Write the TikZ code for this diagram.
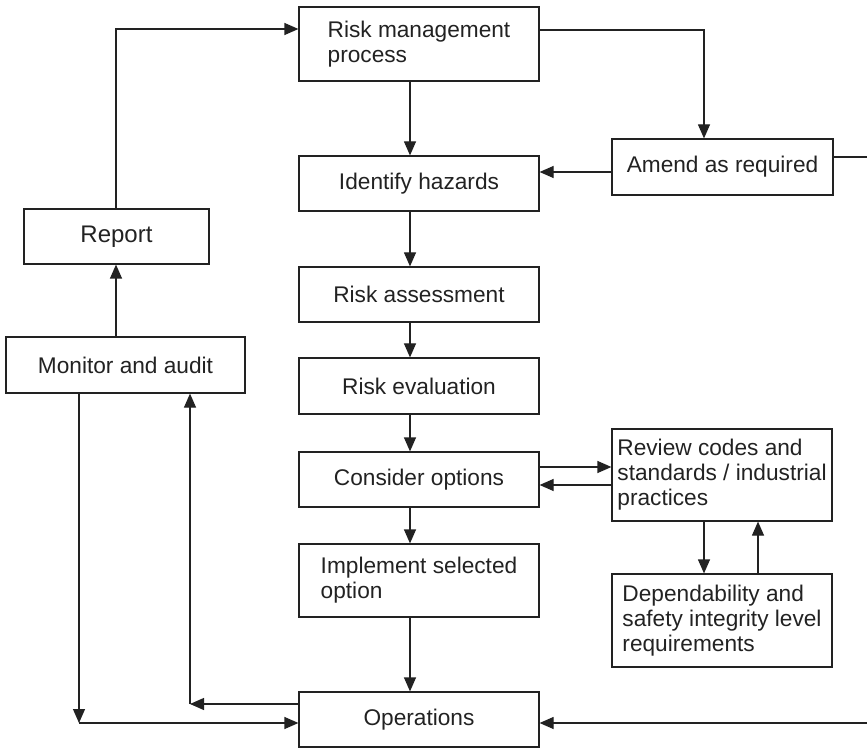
\documentclass[tikz,border=0pt]{standalone}
\usepackage{fontspec}
\setmainfont{Liberation Sans}
\usetikzlibrary{arrows.meta}
\definecolor{ink}{HTML}{222222}
\tikzset{
  box/.style={draw=ink, line width=0.9pt, rectangle, inner sep=0pt, align=left,
    text=ink, font=\fontsize{17}{18.75}\selectfont},
  arr/.style={draw=ink, line width=0.9pt, -{Triangle[length=10.5pt,width=9pt]}}
}
\begin{document}
\begin{tikzpicture}[x=0.75pt,y=-0.75pt]
\useasboundingbox (0,0) rectangle (867,748);
\clip (0,0) rectangle (867,748);

% main column
\node[box, minimum width=180pt, minimum height=55.5pt] (rmp) at (419,44) {Risk management\\process};
\node[box, minimum width=180pt, minimum height=41.25pt] (ih) at (419,183.5) {Identify hazards};
\node[box, minimum width=180pt, minimum height=41.25pt] (ra) at (419,294.5) {Risk assessment};
\node[box, minimum width=180pt, minimum height=42pt] (re) at (419,386) {Risk evaluation};
\node[box, minimum width=180pt, minimum height=41.25pt] (co) at (419,479.5) {Consider options};
\node[box, minimum width=180pt, minimum height=54.75pt] (iso) at (419,580.5) {Implement selected\\option};
\node[box, minimum width=180pt, minimum height=41.25pt] (ops) at (419,719.5) {Operations};

% right column
\node[box, minimum width=165.75pt, minimum height=42pt] (amend) at (722.5,167) {Amend as required};
\node[box, minimum width=165pt, minimum height=69pt] (rev) at (722,475) {Review codes and\\standards / industrial\\practices};
\node[box, minimum width=165pt, minimum height=69.75pt] (dep) at (722,620.5) {Dependability and\\safety integrity level\\requirements};

% left column
\node[box, minimum width=138.75pt, minimum height=41.25pt, font=\fontsize{18}{20}\selectfont] (report) at (116.5,236.5) {Report};
\node[box, minimum width=179.25pt, minimum height=42pt] (mon) at (125.5,365) {Monitor and audit};

% routing points
\coordinate (axis) at (410,0);
\coordinate (topl) at (116,29);
\coordinate (topr) at (704,30);
\coordinate (amin) at (0,172);
\coordinate (rt) at (875,157);
\coordinate (opin) at (79,723);
\coordinate (opout) at (190,704);
\coordinate (cr) at (0,467);
\coordinate (cl) at (0,485);
\coordinate (rdown) at (704,0);
\coordinate (rup) at (758,0);

% main flow
\draw[arr] (rmp.south -| axis) -- (ih.north -| axis);
\draw[arr] (ih.south -| axis) -- (ra.north -| axis);
\draw[arr] (ra.south -| axis) -- (re.north -| axis);
\draw[arr] (re.south -| axis) -- (co.north -| axis);
\draw[arr] (co.south -| axis) -- (iso.north -| axis);
\draw[arr] (iso.south -| axis) -- (ops.north -| axis);

% report loop
\draw[arr] (report.north -| topl) -- (topl) -- (rmp.west |- topl);
\draw[arr] (mon.north -| topl) -- (report.south -| topl);

% amendment loop
\draw[arr] (rmp.east |- topr) -- (topr) -- (amend.north -| topr);
\draw[arr] (amend.west |- amin) -- (ih.east |- amin);
\draw[arr] (amend.east |- rt) -- (rt) |- (ops.east |- opin);

% options and standards
\draw[arr] (co.east |- cr) -- (rev.west |- cr);
\draw[arr] (rev.west |- cl) -- (co.east |- cl);
\draw[arr] (rev.south -| rdown) -- (dep.north -| rdown);
\draw[arr] (dep.north -| rup) -- (rev.south -| rup);

% monitoring loop
\draw[arr] (mon.south -| opin) -- (opin);
\draw[arr] (opin) -- (ops.west |- opin);
\draw[arr] (ops.west |- opout) -- (opout);
\draw[arr] (opout) -- (mon.south -| opout);
\end{tikzpicture}
\end{document}
